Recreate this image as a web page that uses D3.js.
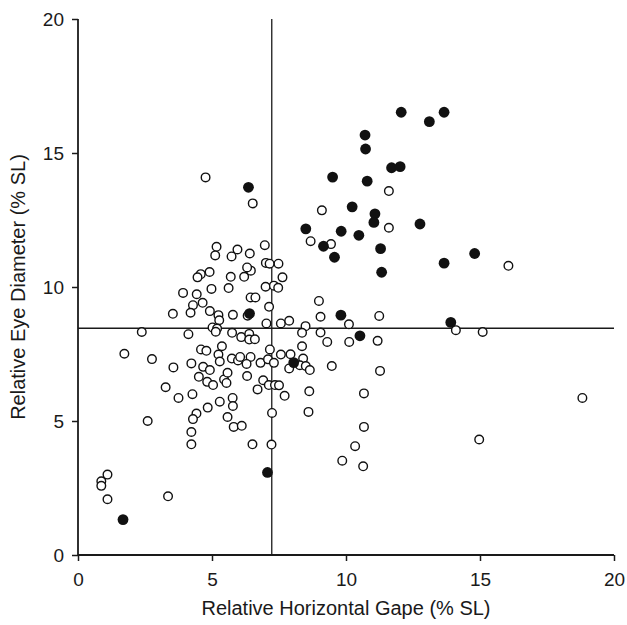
<!DOCTYPE html>
<html>
<head>
<meta charset="utf-8">
<script src="https://cdn.jsdelivr.net/npm/d3@7"></script>
<style>
  body { margin: 0; background: #fff; }
  text { font-family: "Liberation Sans", Arial, sans-serif; fill: #1a1a1a; }
</style>
</head>
<body>
<div id="chart"></div>
<script>
// filled points: [gape, eye]
var filledGape = [12.06, 13.11, 13.66, 10.71, 10.73, 11.70, 12.02, 9.50, 10.79, 10.23,
  11.08, 11.04, 12.76, 8.50, 9.82, 10.48, 9.16, 9.57, 11.29, 13.66,
  11.33, 14.80, 13.91, 9.81, 10.52, 8.05, 6.40, 6.36, 7.07, 1.68]
var filledEye = [16.52, 16.17, 16.52, 15.67, 15.15, 14.45, 14.49, 14.10, 13.95, 12.99,
  12.73, 12.41, 12.35, 12.17, 12.08, 11.93, 11.52, 11.11, 11.43, 10.89,
  10.55, 11.25, 8.68, 8.95, 8.18, 7.18, 9.01, 13.72, 3.08, 1.32]

// open points
var openGape = [4.76, 6.52, 9.10, 8.68, 9.44, 11.60, 11.60, 6.97, 7.01, 7.48,
  7.15, 7.63, 6.45, 6.31, 5.17, 5.12, 5.95, 5.73, 6.41, 4.91,
  4.58, 4.46, 5.70, 6.20, 4.98, 5.62, 3.92, 4.43, 6.44, 6.62,
  4.29, 4.65, 4.20, 3.54, 4.92, 5.24, 5.27, 5.78, 6.33, 5.02,
  5.19, 5.14, 2.38, 4.12, 5.75, 6.09, 6.39, 6.39, 6.60, 5.37,
  4.59, 4.79, 5.24, 1.73, 2.76, 5.29, 5.74, 5.97, 6.05, 6.44,
  6.29, 6.81, 4.23, 3.56, 4.67, 4.92, 4.51, 4.82, 5.04, 5.45,
  5.54, 5.58, 6.31, 6.70, 3.27, 3.75, 4.27, 5.29, 5.77, 5.78,
  4.42, 4.29, 4.84, 5.58, 5.81, 6.11, 6.51, 2.60, 4.23, 4.23,
  0.87, 0.87, 1.10, 1.10, 3.36, 7.22, 7.24, 6.91, 7.12, 7.35,
  7.50, 7.71, 8.63, 8.60, 9.86, 10.67, 10.34, 10.64, 7.00, 7.31,
  7.47, 7.13, 8.99, 9.05, 11.24, 7.03, 7.57, 7.88, 8.49, 10.11,
  8.36, 9.05, 9.30, 10.12, 11.18, 8.36, 7.16, 7.09, 7.31, 7.57,
  7.93, 7.88, 8.40, 8.28, 8.50, 8.65, 9.47, 11.27, 10.67, 14.10,
  15.10, 18.82, 14.97, 16.06]
var openEye = [14.09, 13.12, 12.86, 11.71, 11.60, 13.58, 12.21, 11.56, 10.90, 10.87,
  10.87, 10.36, 10.61, 10.73, 11.50, 11.18, 11.40, 11.14, 11.25, 10.56,
  10.48, 10.36, 10.38, 10.38, 9.93, 9.96, 9.78, 9.73, 9.61, 9.61,
  9.32, 9.41, 9.04, 9.00, 9.10, 8.95, 8.76, 8.96, 8.93, 8.49,
  8.45, 8.33, 8.32, 8.24, 8.29, 8.13, 8.25, 8.04, 8.05, 7.79,
  7.67, 7.62, 7.48, 7.51, 7.31, 7.22, 7.33, 7.26, 7.39, 7.39,
  7.13, 7.17, 7.15, 7.00, 7.02, 6.90, 6.65, 6.46, 6.34, 6.55,
  6.42, 6.80, 6.68, 6.18, 6.26, 5.86, 6.00, 5.72, 5.86, 5.56,
  5.28, 5.07, 5.50, 5.15, 4.78, 4.82, 4.13, 5.00, 4.59, 4.13,
  2.75, 2.58, 3.00, 2.08, 2.19, 4.12, 5.30, 6.52, 6.34, 6.34,
  6.33, 5.94, 6.11, 5.34, 3.52, 4.78, 4.06, 3.31, 10.01, 10.05,
  9.97, 9.26, 9.48, 8.89, 8.92, 8.64, 8.64, 8.74, 8.54, 8.61,
  8.29, 8.30, 7.95, 7.95, 7.99, 7.79, 7.67, 7.30, 7.17, 7.48,
  7.49, 6.96, 7.33, 7.08, 7.05, 6.90, 7.05, 6.87, 6.03, 8.39,
  8.32, 5.86, 4.31, 10.79]

var xTicks = [0, 5, 10, 15, 20]
var yTicks = [0, 5, 10, 15, 20]
var meanGape = 7.23
var meanEye = 8.46

var margin = {top: 19, right: 13, bottom: 70, left: 78},
    width = 627 - margin.left - margin.right,
    height = 625 - margin.top - margin.bottom

var svg = d3.select("#chart")
  .append("svg")
  .attr("width", 627)
  .attr("height", 625)
  .append("g")
  .attr("transform", "translate(" + margin.left + "," + margin.top + ")")

var x = d3.scaleLinear().domain([0, 20]).range([0, width])
var y = d3.scaleLinear().domain([0, 20]).range([height, 0])

// axes
svg.append("g")
  .attr("transform", "translate(0," + height + ")")
  .call(d3.axisBottom(x).tickValues(xTicks).tickSize(6).tickPadding(12).tickFormat(d3.format("d")))
svg.append("g")
  .call(d3.axisLeft(y).tickValues(yTicks).tickSize(6).tickPadding(8).tickFormat(d3.format("d")))

svg.selectAll(".domain").remove()
svg.selectAll(".tick line").attr("stroke", "#1a1a1a").attr("stroke-width", 1.5)
svg.selectAll(".tick text")
  .style("font-size", "19px")
  .style("font-family", "'Liberation Sans', Arial, sans-serif")
  .attr("fill", "#1a1a1a")

// axis lines
svg.append("line")
  .attr("x1", 0).attr("x2", width).attr("y1", height).attr("y2", height)
  .attr("stroke", "#1a1a1a").attr("stroke-width", 1.8)
svg.append("line")
  .attr("x1", 0).attr("x2", 0).attr("y1", 0).attr("y2", height)
  .attr("stroke", "#1a1a1a").attr("stroke-width", 1.8)

// mean lines
svg.append("line")
  .attr("x1", x(meanGape)).attr("x2", x(meanGape))
  .attr("y1", 0).attr("y2", height)
  .attr("stroke", "#1a1a1a").attr("stroke-width", 1.3)
svg.append("line")
  .attr("x1", 0).attr("x2", width)
  .attr("y1", y(meanEye)).attr("y2", y(meanEye))
  .attr("stroke", "#1a1a1a").attr("stroke-width", 1.3)

// open points
var openData = openGape.map(function(g, i) { return {gape: g, eye: openEye[i]} })
svg.append("g")
  .selectAll("circle")
  .data(openData)
  .enter()
  .append("circle")
  .attr("cx", function(d) { return x(d.gape) })
  .attr("cy", function(d) { return y(d.eye) })
  .attr("r", 4.3)
  .style("fill", "#fff")
  .style("stroke", "#111")
  .style("stroke-width", 1.4)

// filled points
var filledData = filledGape.map(function(g, i) { return {gape: g, eye: filledEye[i]} })
svg.append("g")
  .selectAll("circle")
  .data(filledData)
  .enter()
  .append("circle")
  .attr("cx", function(d) { return x(d.gape) })
  .attr("cy", function(d) { return y(d.eye) })
  .attr("r", 5.4)
  .style("fill", "#111")

// axis titles
svg.append("text")
  .attr("x", width / 2)
  .attr("y", height + 60)
  .style("text-anchor", "middle")
  .style("font-size", "20px")
  .text("Relative Horizontal Gape (% SL)")

svg.append("text")
  .attr("transform", "rotate(-90)")
  .attr("x", -height / 2)
  .attr("y", -margin.left + 25)
  .style("text-anchor", "middle")
  .style("font-size", "20px")
  .text("Relative Eye Diameter (% SL)")
</script>
</body>
</html>
